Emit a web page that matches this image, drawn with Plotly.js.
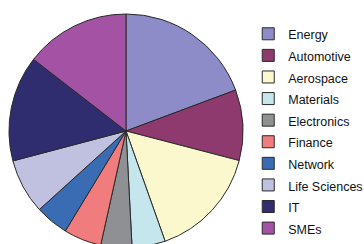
<!DOCTYPE html>
<html>
<head>
<meta charset="utf-8">
<script src="https://cdn.plot.ly/plotly-3.0.1.min.js"></script>
<style>
html, body { margin: 0; padding: 0; overflow: hidden; background: #ffffff; }
#chart { width: 364px; height: 250px; }
</style>
</head>
<body>
<div id="chart"></div>
<script>
const categories = ["Energy", "Automotive", "Aerospace", "Materials", "Electronics", "Finance", "Network", "Life Sciences", "IT", "SMEs"];
const shares = [19.3, 9.75, 15.5, 4.6, 4.3, 5.2, 4.6, 7.6, 14.6, 14.5];
const sliceColors = ["#8e8cc8", "#8e3a6e", "#faf8cc", "#c6e6ee", "#8e9094", "#f07c7e", "#3a6cb4", "#c0c0e0", "#302c70", "#a452a4"];

const legendLabels = categories.map(c => '<span style="font-size:12.5px">' + c + '</span>');

const trace = {
  type: 'pie',
  labels: legendLabels,
  values: shares,
  sort: false,
  direction: 'clockwise',
  rotation: 0,
  textinfo: 'none',
  hoverinfo: 'none',
  marker: { colors: sliceColors, line: { color: '#2a2a2a', width: 1 } },
  domain: { x: [9 / 364, 243 / 364], y: [2 / 250, 236 / 250] }
};

const layout = {
  width: 364,
  height: 250,
  margin: { l: 0, r: 0, t: 0, b: 0, autoexpand: false },
  paper_bgcolor: '#ffffff',
  plot_bgcolor: '#ffffff',
  showlegend: true,
  legend: {
    x: 0.682, xanchor: 'left',
    y: 1 - 18 / 250, yanchor: 'top',
    font: { family: 'Liberation Sans, Arial, sans-serif', size: 14.3, color: '#111111' },
    bgcolor: 'rgba(0,0,0,0)',
    itemwidth: 30
  }
};

Plotly.newPlot('chart', [trace], layout, { displayModeBar: false, staticPlot: true });
</script>
</body>
</html>
